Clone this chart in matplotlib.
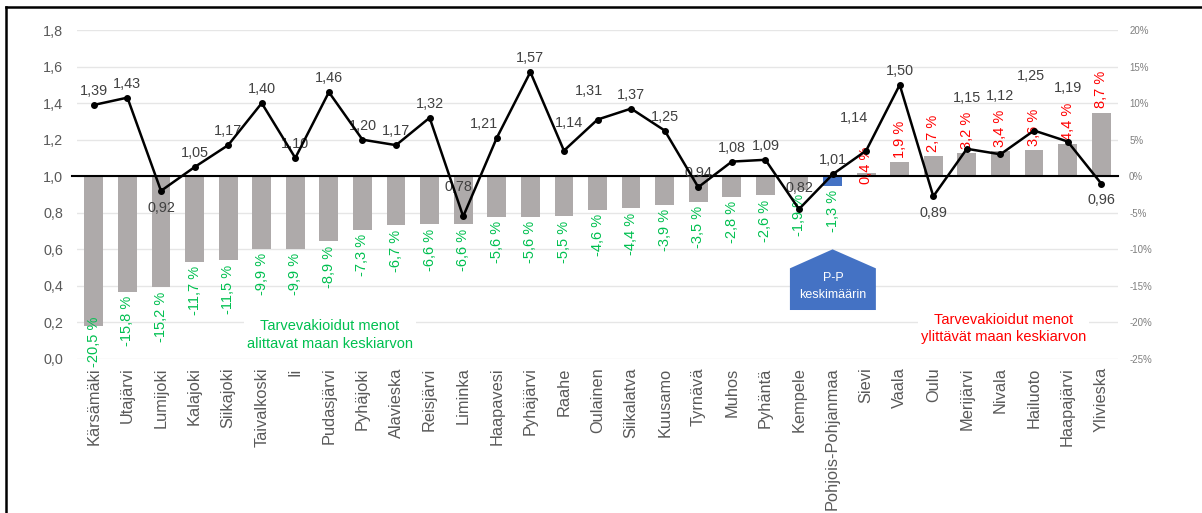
import matplotlib.pyplot as plt
from matplotlib.patches import Polygon
from matplotlib.lines import Line2D

plt.rcParams['font.family'] = ['Liberation Sans', 'DejaVu Sans']

# kunnat järjestyksessä
kunnat = ['Kärsämäki', 'Utajärvi', 'Lumijoki', 'Kalajoki', 'Siikajoki', 'Taivalkoski', 'Ii',
          'Pudasjärvi', 'Pyhäjoki', 'Alavieska', 'Reisjärvi', 'Liminka', 'Haapavesi', 'Pyhäjärvi',
          'Raahe', 'Oulainen', 'Siikalatva', 'Kuusamo', 'Tyrnävä', 'Muhos', 'Pyhäntä', 'Kempele',
          'Pohjois-Pohjanmaa', 'Sievi', 'Vaala', 'Oulu', 'Merijärvi', 'Nivala', 'Hailuoto',
          'Haapajärvi', 'Ylivieska']

# tarvevakioitujen menojen ero maan keskiarvosta (%)
ero_pct = [-20.5, -15.8, -15.2, -11.7, -11.5, -9.9, -9.9, -8.9, -7.3, -6.7, -6.6, -6.6,
           -5.6, -5.6, -5.5, -4.6, -4.4, -3.9, -3.5, -2.8, -2.6, -1.9, -1.3,
           0.4, 1.9, 2.7, 3.2, 3.4, 3.6, 4.4, 8.7]

# viiva (vasen akseli)
suhde = [1.39, 1.43, 0.92, 1.05, 1.17, 1.40, 1.10, 1.46, 1.20, 1.17, 1.32, 0.78, 1.21, 1.57,
         1.14, 1.31, 1.37, 1.25, 0.94, 1.08, 1.09, 0.82, 1.01, 1.14, 1.50, 0.89, 1.15, 1.12,
         1.25, 1.19, 0.96]

left_ticks = [0.0, 0.2, 0.4, 0.6, 0.8, 1.0, 1.2, 1.4, 1.6, 1.8]
right_ticks = [-25, -20, -15, -10, -5, 0, 5, 10, 15, 20]

# labels drawn below the point instead of above
below = {'Lumijoki', 'Oulu', 'Ylivieska'}
# hand-moved line labels in the original (dx, dy in pixels)
label_nudge = {'Liminka': (-5, 15), 'Haapavesi': (-13, 0), 'Raahe': (5, 14),
               'Oulainen': (-9, 15), 'Kempele': (0, 7), 'Sievi': (-12, 19),
               'Merijärvi': (0, 37), 'Nivala': (0, 44), 'Hailuoto': (-3, 41),
               'Haapajärvi': (0, 40)}
pct_nudge = {'Sievi': -15}

GREY_BAR = '#AEAAAA'
BLUE = '#4472C4'
GREEN = '#00C050'
RED = '#FF0000'
TXT = '#404040'
TICK = '#595959'
PX = 0.72  # points per pixel at 100 dpi

fig = plt.figure(figsize=(12.02, 5.13), dpi=100)
ax = fig.add_axes([0.0641, 0.3002, 0.866, 0.6413])   # bars, percent scale (right ticks)
ax2 = ax.twinx()                                      # line, ratio scale (left ticks)

x = list(range(len(kunnat)))
colors = [BLUE if k == 'Pohjois-Pohjanmaa' else GREY_BAR for k in kunnat]
ax.bar(x, ero_pct, width=0.56, color=colors, zorder=2)

ax.set_ylim(-25, 20)
ax.set_xlim(-0.5, len(kunnat) - 0.5)
ax.set_yticks(right_ticks)
ax.set_yticklabels([f'{t}%' for t in right_ticks])
ax.yaxis.tick_right()
ax.tick_params(axis='y', length=0, labelsize=7, labelcolor='#7F7F7F', pad=8)
ax.grid(axis='y', color='#E6E6E6', linewidth=1, zorder=0)
ax.set_axisbelow(True)
for s in ax.spines.values():
    s.set_visible(False)
ax.set_xticks(x)
ax.set_xticklabels(kunnat, rotation=90, fontsize=11.8, color=TICK)
ax.tick_params(axis='x', length=0, pad=6)

ax.axhline(0, color='black', linewidth=1.5, zorder=3, xmin=-0.005, clip_on=False)

# percentage labels
for k, xi, v in zip(kunnat, x, ero_pct):
    lab = f'{v:.1f} %'.replace('.', ',')
    dy = pct_nudge.get(k, 0) * PX
    if v < 0:
        ax.annotate(lab, (xi, max(v, -18.7)), xytext=(0, -3 + dy), textcoords='offset points',
                    rotation=90, ha='center', va='top', color=GREEN, fontsize=10.5, zorder=4)
    else:
        ax.annotate(lab, (xi, v), xytext=(0, 3 + dy), textcoords='offset points',
                    rotation=90, ha='center', va='bottom', color=RED, fontsize=10.5, zorder=4)

# line on ratio axis
ax2.plot(x, suhde, color='black', linewidth=1.8, marker='o', markersize=4, zorder=5)
ax2.set_ylim(0, 1.8)
ax2.set_yticks(left_ticks)
ax2.set_yticklabels([f'{t:.1f}'.replace('.', ',') for t in left_ticks])
ax2.yaxis.tick_left()
ax2.tick_params(axis='y', length=0, labelsize=10.4, labelcolor=TICK, pad=10)
for s in ax2.spines.values():
    s.set_visible(False)

for k, xi, v in zip(kunnat, x, suhde):
    lab = f'{v:.2f}'.replace('.', ',')
    ndx, ndy = label_nudge.get(k, (0, 0))
    if k in below:
        ax2.annotate(lab, (xi, v), xytext=(ndx * PX, -7 + ndy * PX), textcoords='offset points',
                     ha='center', va='top', color=TXT, fontsize=10.4)
    else:
        ax2.annotate(lab, (xi, v), xytext=(ndx * PX, 5 + ndy * PX), textcoords='offset points',
                     ha='center', va='bottom', color=TXT, fontsize=10.4)

# P-P keskimäärin -merkki
pp = kunnat.index('Pohjois-Pohjanmaa')
shape = Polygon([(pp - 1.27, -18.3), (pp + 1.29, -18.3), (pp + 1.29, -12.6),
                 (pp, -10.0), (pp - 1.27, -12.6)], closed=True,
                facecolor=BLUE, edgecolor='none', zorder=4)
ax.add_patch(shape)
ax.text(pp + 0.01, -15.1, 'P-P\nkeskimäärin', ha='center', va='center', color='white',
        fontsize=9, linespacing=1.5, zorder=5)

ax.text(7.03, -21.7, 'Tarvevakioidut menot\nalittavat maan keskiarvon', ha='center',
        va='center', color=GREEN, fontsize=10.5, linespacing=1.3, zorder=4,
        bbox=dict(facecolor='white', edgecolor='none', pad=2))
ax.text(27.08, -20.8, 'Tarvevakioidut menot\nylittävät maan keskiarvon', ha='center',
        va='center', color=RED, fontsize=10.5, linespacing=1.3, zorder=4,
        bbox=dict(facecolor='white', edgecolor='none', pad=2))

# frame of the slide snippet
fig.add_artist(Line2D([5.5 / 1202, 1.0], [1 - 7 / 513, 1 - 7 / 513],
                      transform=fig.transFigure, color='black', linewidth=1.8))
fig.add_artist(Line2D([5.5 / 1202, 5.5 / 1202], [0, 1 - 7 / 513],
                      transform=fig.transFigure, color='black', linewidth=1.8))

fig.savefig('out.png', dpi=100)
